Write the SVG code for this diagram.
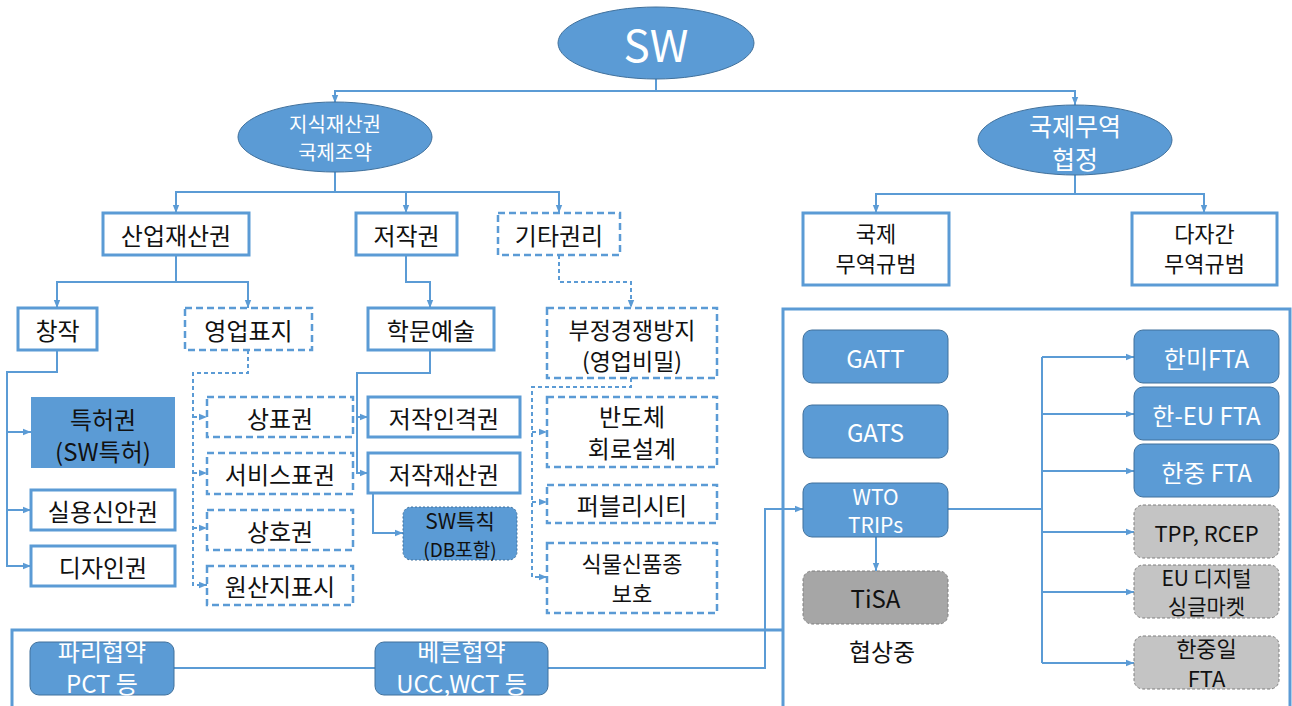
<svg xmlns="http://www.w3.org/2000/svg" width="1292" height="706" viewBox="0 0 1292 706">
<style>
text{font-family:"Noto Sans CJK KR","Noto Sans",sans-serif;text-anchor:middle;dominant-baseline:central;fill:#111}
.w{fill:#fff}
.box{fill:#fff;stroke:#5b9bd5;stroke-width:3}
.dbox{fill:#fff;stroke:#5b9bd5;stroke-width:2.5;stroke-dasharray:7 4}
.ell{fill:#5b9bd5;stroke:#41719c;stroke-width:1}
.blue{fill:#5b9bd5;stroke:#41719c;stroke-width:1}
.gray{fill:#c4c4c4;stroke:#7f7f7f;stroke-width:1;stroke-dasharray:3 2}
.gray2{fill:#a6a6a6;stroke:#7f7f7f;stroke-width:1;stroke-dasharray:3 2}
.frame{fill:none;stroke:#5b9bd5;stroke-width:3}
.c{fill:none;stroke:#5b9bd5;stroke-width:2}
.cd{fill:none;stroke:#5b9bd5;stroke-width:2;stroke-dasharray:4 3}
.t24{font-size:24px}
.t22{font-size:22px}
.t21{font-size:21px}
</style>
<defs>
<marker id="a" viewBox="0 0 10 10" refX="10" refY="5" markerWidth="8" markerHeight="8" markerUnits="userSpaceOnUse" orient="auto">
<path d="M0,1 L10,5 L0,9 z" fill="#5b9bd5"/>
</marker>
</defs>

<g id="frames">
<path class="frame" d="M12,712 V630 H783"/>
<path class="frame" d="M783,712 V309 H1290 V712"/>
</g>

<g id="connectors">
<path class="c" d="M656,79 V91 H335 V103" marker-end="url(#a)"/>
<path class="c" d="M656,91 H1075 V105" marker-end="url(#a)"/>
<path class="c" d="M335,172 V192 H176 V213" marker-end="url(#a)"/>
<path class="c" d="M335,192 H559 V213" marker-end="url(#a)"/>
<path class="c" d="M406,192 V213" marker-end="url(#a)"/>
<path class="c" d="M1075,175 V194 H876 V213" marker-end="url(#a)"/>
<path class="c" d="M1075,194 H1204 V213" marker-end="url(#a)"/>
<path class="c" d="M176,255 V282 H57 V308" marker-end="url(#a)"/>
<path class="c" d="M176,282 H248 V308" marker-end="url(#a)"/>
<path class="c" d="M406,255 V282 H430 V308" marker-end="url(#a)"/>
<path class="cd" d="M559,255 V282 H631 V308" marker-end="url(#a)"/>
<path class="c" d="M57,350 V372 H7 V566 H31" marker-end="url(#a)"/>
<path class="c" d="M7,432 H31" marker-end="url(#a)"/>
<path class="c" d="M7,510 H31" marker-end="url(#a)"/>
<path class="cd" d="M248,350 V373 H193 V585 H207" marker-end="url(#a)"/>
<path class="cd" d="M193,417 H207" marker-end="url(#a)"/>
<path class="cd" d="M193,473 H207" marker-end="url(#a)"/>
<path class="cd" d="M193,528 H207" marker-end="url(#a)"/>
<path class="c" d="M430,350 V373 H357 V473 H368" marker-end="url(#a)"/>
<path class="c" d="M357,417 H368" marker-end="url(#a)"/>
<path class="c" d="M373,493 V533 H403" marker-end="url(#a)"/>
<path class="cd" d="M631,378 V387 H532 V577 H547" marker-end="url(#a)"/>
<path class="cd" d="M532,432 H547" marker-end="url(#a)"/>
<path class="cd" d="M532,502 H547" marker-end="url(#a)"/>
<path class="c" d="M174,668 H375"/>
<path class="c" d="M548,668 H765 V509 H803" marker-end="url(#a)"/>
<path class="c" d="M876,537 V571" marker-end="url(#a)"/>
<path class="c" d="M948,509 H1042"/>
<path class="c" d="M1042,357 V663"/>
<path class="c" d="M1042,357 H1134" marker-end="url(#a)"/>
<path class="c" d="M1042,414 H1134" marker-end="url(#a)"/>
<path class="c" d="M1042,471 H1134" marker-end="url(#a)"/>
<path class="c" d="M1042,532 H1134" marker-end="url(#a)"/>
<path class="c" d="M1042,592 H1134" marker-end="url(#a)"/>
<path class="c" d="M1042,663 H1134" marker-end="url(#a)"/>
</g>

<g id="sw"><ellipse class="ell" cx="656" cy="43" rx="98" ry="36"/><text class="w" x="656" y="43" style="font-size:44px">SW</text></g>
<g id="ip-treaty"><ellipse class="ell" cx="335" cy="137" rx="97" ry="35"/><text class="w" x="335" y="123" style="font-size:20px">지식재산권</text><text class="w" x="335" y="151" style="font-size:20px">국제조약</text></g>
<g id="trade"><ellipse class="ell" cx="1075" cy="140" rx="97" ry="35"/><text class="w" x="1075" y="125" style="font-size:25px">국제무역</text><text class="w" x="1075" y="158" style="font-size:25px">협정</text></g>

<g id="industrial"><rect class="box" x="103" y="213" width="146" height="42"/><text class="t24" x="176" y="234">산업재산권</text></g>
<g id="copyright"><rect class="box" x="356" y="213" width="101" height="42"/><text class="t24" x="406.5" y="234">저작권</text></g>
<g id="other"><rect class="dbox" x="498" y="213" width="122" height="42"/><text class="t24" x="559" y="234">기타권리</text></g>
<g id="intl-rule"><rect class="box" x="803" y="213" width="146" height="72"/><text class="t22" x="876" y="232">국제</text><text class="t22" x="876" y="262">무역규범</text></g>
<g id="multi-rule"><rect class="box" x="1132" y="213" width="145" height="72"/><text class="t22" x="1204.5" y="232">다자간</text><text class="t22" x="1204.5" y="262">무역규범</text></g>

<g id="creation"><rect class="box" x="18" y="308" width="79" height="42"/><text class="t24" x="57.5" y="329">창작</text></g>
<g id="mark"><rect class="dbox" x="185" y="308" width="127" height="42"/><text class="t24" x="248.5" y="329">영업표지</text></g>
<g id="art"><rect class="box" x="368" y="308" width="126" height="42"/><text class="t24" x="431" y="329">학문예술</text></g>
<g id="unfair"><rect class="dbox" x="547" y="308" width="170" height="70"/><text x="632" y="329" style="font-size:23px">부정경쟁방지</text><text x="632" y="360" style="font-size:23px">(영업비밀)</text></g>

<g id="patent"><rect x="31" y="397" width="144" height="71" fill="#5b9bd5"/><text class="t24" x="103" y="418">특허권</text><text class="t24" x="103" y="450">(SW특허)</text></g>
<g id="utility"><rect class="box" x="31" y="490" width="144" height="40"/><text class="t24" x="103" y="510">실용신안권</text></g>
<g id="design"><rect class="box" x="31" y="546" width="144" height="40"/><text class="t24" x="103" y="566">디자인권</text></g>

<g id="trademark"><rect class="dbox" x="207" y="397" width="146" height="40"/><text class="t24" x="280" y="417">상표권</text></g>
<g id="servicemark"><rect class="dbox" x="207" y="453" width="146" height="41"/><text class="t24" x="280" y="473">서비스표권</text></g>
<g id="tradename"><rect class="dbox" x="207" y="510" width="146" height="40"/><text class="t24" x="280" y="530">상호권</text></g>
<g id="origin"><rect class="dbox" x="207" y="566" width="146" height="39"/><text class="t24" x="280" y="585">원산지표시</text></g>

<g id="moral"><rect class="box" x="368" y="397" width="152" height="40"/><text class="t24" x="444" y="417">저작인격권</text></g>
<g id="property"><rect class="box" x="368" y="453" width="152" height="40"/><text class="t24" x="444" y="473">저작재산권</text></g>
<g id="sw-special"><rect class="blue" x="403" y="507" width="114" height="53" rx="8" style="stroke-dasharray:2 2"/><text class="t21" x="460" y="520">SW특칙</text><text x="460" y="548" style="font-size:19px">(DB포함)</text></g>

<g id="semicon"><rect class="dbox" x="547" y="397" width="170" height="70"/><text class="t24" x="632" y="415">반도체</text><text class="t24" x="632" y="447">회로설계</text></g>
<g id="publicity"><rect class="dbox" x="547" y="485" width="170" height="38"/><text class="t24" x="632" y="504">퍼블리시티</text></g>
<g id="plant"><rect class="dbox" x="547" y="543" width="170" height="70"/><text class="t22" x="632" y="562">식물신품종</text><text class="t22" x="632" y="592">보호</text></g>

<g id="paris"><rect class="blue" x="30" y="642" width="144" height="53" rx="9"/><text class="t24 w" x="102" y="650">파리협약</text><text class="t24 w" x="102" y="682">PCT 등</text></g>
<g id="berne"><rect class="blue" x="375" y="642" width="173" height="53" rx="9"/><text class="t24 w" x="461.5" y="650">베른협약</text><text class="t24 w" x="461.5" y="682">UCC,WCT 등</text></g>

<g id="gatt"><rect class="blue" x="803" y="330" width="145" height="53" rx="9"/><text class="t24 w" x="875.5" y="357">GATT</text></g>
<g id="gats"><rect class="blue" x="803" y="405" width="145" height="53" rx="9"/><text class="t24 w" x="875.5" y="431">GATS</text></g>
<g id="wto"><rect class="blue" x="803" y="483" width="145" height="54" rx="9"/><text class="t21 w" x="875.5" y="496">WTO</text><text class="t21 w" x="875.5" y="524">TRIPs</text></g>
<g id="tisa"><rect class="gray2" x="803" y="571" width="145" height="53" rx="9"/><text class="t24" x="875.5" y="597">TiSA</text></g>
<g id="negotiating"><text class="t24" x="882" y="650">협상중</text></g>

<g id="kor-us"><rect class="blue" x="1134" y="330" width="145" height="53" rx="9"/><text class="t24 w" x="1206.5" y="357">한미FTA</text></g>
<g id="kor-eu"><rect class="blue" x="1134" y="387" width="145" height="53" rx="9"/><text class="t24 w" x="1206.5" y="414">한-EU FTA</text></g>
<g id="kor-cn"><rect class="blue" x="1134" y="444" width="145" height="53" rx="9"/><text class="t24 w" x="1206.5" y="471">한중 FTA</text></g>
<g id="tpp"><rect class="gray" x="1134" y="505" width="145" height="53" rx="9"/><text class="t22" x="1206.5" y="532">TPP, RCEP</text></g>
<g id="eu-dsm"><rect class="gray" x="1134" y="565" width="145" height="53" rx="9"/><text class="t21" x="1206.5" y="577">EU 디지털</text><text class="t21" x="1206.5" y="605">싱글마켓</text></g>
<g id="kcj"><rect class="gray" x="1134" y="636" width="145" height="53" rx="9"/><text class="t22" x="1206.5" y="647">한중일</text><text class="t22" x="1206.5" y="677">FTA</text></g>
</svg>
